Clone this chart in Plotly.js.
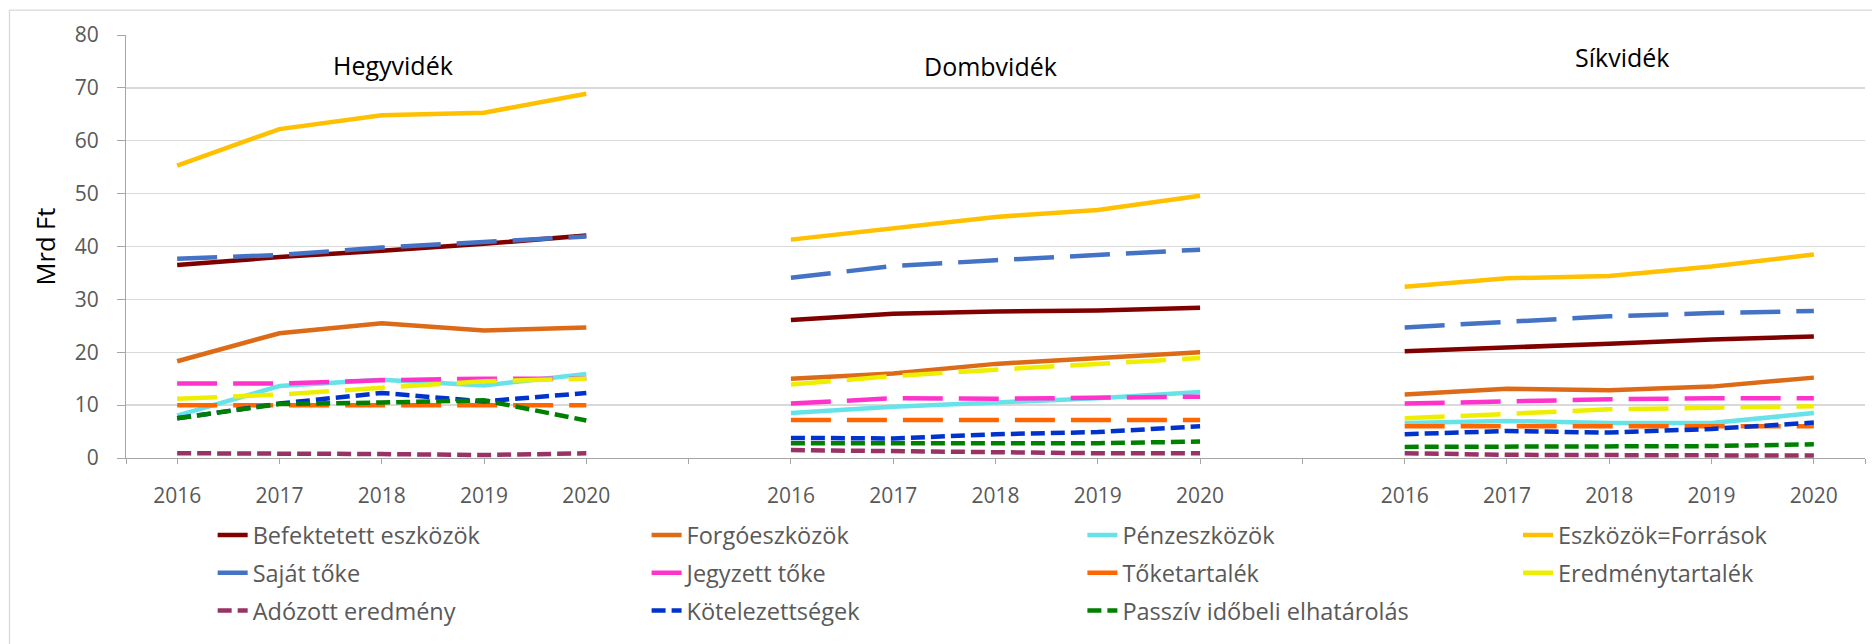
<!DOCTYPE html>
<html>
<head>
<meta charset="utf-8">
<script src="https://cdn.plot.ly/plotly-3.0.1.min.js"></script>
<style>
  html, body { margin: 0; padding: 0; background: #fff; }
  #chart { width: 1872px; height: 644px; }
</style>
</head>
<body>
<div id="chart"></div>
<script>
// ---- Data ----
const regions = ['Hegyvidék', 'Dombvidék', 'Síkvidék'];
const years = ['2016', '2017', '2018', '2019', '2020'];
const yAxisTitle = 'Mrd Ft';

// each array: Hegyvidék 2016-2020, Dombvidék 2016-2020, Síkvidék 2016-2020 (Mrd Ft)
const befektetettEszkozok = [36.5, 38.0, 39.2, 40.5, 42.1, 26.1, 27.3, 27.7, 27.9, 28.4, 20.2, 20.8, 21.6, 22.4, 23.0];
const forgoeszkozok       = [18.3, 23.6, 25.5, 24.1, 24.7, 15.0, 16.0, 17.8, 18.8, 20.0, 12.0, 13.1, 12.8, 13.5, 15.2];
const penzeszkozok        = [8.0, 13.6, 14.8, 13.7, 15.9, 8.5, 9.7, 10.5, 11.3, 12.5, 6.6, 7.0, 6.6, 6.6, 8.5];
const eszkozokForrasok    = [55.3, 62.2, 64.8, 65.3, 68.9, 41.3, 43.4, 45.6, 46.9, 49.6, 32.4, 34.0, 34.4, 36.2, 38.5];
const sajatToke           = [37.7, 38.4, 39.8, 40.9, 41.9, 34.1, 36.3, 37.4, 38.4, 39.4, 24.7, 25.8, 26.8, 27.4, 27.8];
const jegyzettToke        = [14.1, 14.1, 14.7, 15.0, 15.0, 10.3, 11.3, 11.2, 11.5, 11.6, 10.3, 10.8, 11.1, 11.3, 11.3];
const toketartalek        = [10.0, 10.0, 10.0, 10.0, 10.0, 7.2, 7.2, 7.2, 7.2, 7.2, 6.0, 6.0, 6.0, 6.0, 6.0];
const eredmenytartalek    = [11.2, 12.0, 13.3, 14.5, 15.0, 13.9, 15.5, 16.7, 17.9, 18.9, 7.5, 8.4, 9.2, 9.5, 9.8];
const adozottEredmeny     = [0.9, 0.9, 0.75, 0.55, 0.9, 1.5, 1.25, 1.1, 0.9, 0.9, 0.9, 0.6, 0.55, 0.45, 0.45];
const kotelezettsegek     = [7.5, 10.3, 12.3, 10.7, 12.3, 3.8, 3.7, 4.5, 4.9, 6.0, 4.5, 5.1, 4.8, 5.5, 6.7];
const passzivElhatarolas  = [7.5, 10.2, 10.5, 10.9, 7.1, 2.8, 2.8, 2.8, 2.8, 3.1, 2.1, 2.1, 2.1, 2.25, 2.6];

const yTickVals = [0, 10, 20, 30, 40, 50, 60, 70, 80];

// ---- Series definitions (name, values, style) ----
const LONG = '40px,16px';
const DOT = '14px,6px';
const series = [
  { name: 'Befektetett eszközök',        values: befektetettEszkozok, color: '#800000', dash: 'solid' },
  { name: 'Forgóeszközök',               values: forgoeszkozok,       color: '#DD6A17', dash: 'solid' },
  { name: 'Pénzeszközök',                values: penzeszkozok,        color: '#66E3E8', dash: 'solid' },
  { name: 'Eszközök=Források',           values: eszkozokForrasok,    color: '#FFC000', dash: 'solid' },
  { name: 'Saját tőke',                  values: sajatToke,           color: '#4472C4', dash: LONG },
  { name: 'Jegyzett tőke',               values: jegyzettToke,        color: '#FF33CC', dash: LONG },
  { name: 'Tőketartalék',                values: toketartalek,        color: '#FF6600', dash: LONG },
  { name: 'Eredménytartalék',            values: eredmenytartalek,    color: '#EEEE00', dash: LONG },
  { name: 'Adózott eredmény',            values: adozottEredmeny,     color: '#993366', dash: DOT },
  { name: 'Kötelezettségek',             values: kotelezettsegek,     color: '#0033CC', dash: DOT },
  { name: 'Passzív időbeli elhatárolás', values: passzivElhatarolas,  color: '#008000', dash: DOT }
];

// category slots: 5 years per region, one empty slot between regions
const slotsPerRegion = years.length + 1;
const nSlots = regions.length * slotsPerRegion - 1;
const tickVals = [-0.5];
const tickText = [''];
for (let s = 0; s < nSlots; s++) {
  const j = s % slotsPerRegion;
  tickVals.push(s);
  tickText.push(j < years.length ? years[j] : '');
}
tickVals.push(nSlots - 0.5);
tickText.push('');

function buildXY(values) {
  const x = [], y = [];
  for (let s = 0; s < nSlots; s++) {
    const r = Math.floor(s / slotsPerRegion), j = s % slotsPerRegion;
    x.push(s);
    y.push(j < years.length ? values[r * years.length + j] : null);
  }
  return { x, y };
}

const legendIds = ['legend', 'legend2', 'legend3', 'legend4'];
const traces = series.map((s, i) => {
  const xy = buildXY(s.values);
  return {
    type: 'scatter', mode: 'lines',
    x: xy.x, y: xy.y, name: s.name,
    connectgaps: false,
    line: { color: s.color, width: 4.5, dash: s.dash },
    legend: legendIds[i % 4],
    legendgroup: 'g' + i,
    hoverinfo: 'name+y'
  };
});

const FONT = '"Open Sans", "Noto Sans", sans-serif';
const legendBase = {
  orientation: 'v', xref: 'container', yref: 'container',
  xanchor: 'left', yanchor: 'top', y: 0.2030,
  bgcolor: 'rgba(0,0,0,0)', borderwidth: 0, tracegroupgap: 4.2,
  font: { family: FONT, size: 23.5, color: '#595959' }
};

const layout = {
  width: 1872, height: 644,
  paper_bgcolor: '#ffffff', plot_bgcolor: '#ffffff',
  margin: { l: 126, r: 7, t: 35, b: 186, autoexpand: false },
  font: { family: FONT, color: '#595959' },
  showlegend: true,
  legend:  Object.assign({}, legendBase, { x: 0.1136 }),
  legend2: Object.assign({}, legendBase, { x: 0.3454 }),
  legend3: Object.assign({}, legendBase, { x: 0.5782 }),
  legend4: Object.assign({}, legendBase, { x: 0.8109 }),
  xaxis: {
    type: 'linear', range: [-0.5, nSlots - 0.5],
    tickmode: 'array', tickvals: tickVals, ticktext: tickText,
    showgrid: false, zeroline: false,
    showline: true, linecolor: '#a6a6a6', linewidth: 1,
    ticks: 'outside', ticklen: 5, tickcolor: '#a6a6a6', tickwidth: 1,
    ticklabelstandoff: 14,
    tickfont: { family: FONT, size: 21, color: '#595959' },
    fixedrange: true
  },
  yaxis: {
    range: [0, 80], tickmode: 'array', tickvals: yTickVals,
    showgrid: true, gridcolor: '#d9d9d9', gridwidth: 1.3,
    zeroline: false,
    showline: true, linecolor: '#a6a6a6', linewidth: 1,
    ticks: 'outside', ticklen: 8, tickcolor: '#a6a6a6', tickwidth: 1,
    ticklabelstandoff: 14,
    tickfont: { family: FONT, size: 21, color: '#595959' },
    fixedrange: true
  },
  annotations: [
    { text: regions[0], x: 0.1533, y: 0.929 },
    { text: regions[1], x: 0.4972, y: 0.9274 },
    { text: regions[2], x: 0.8603, y: 0.9487 },
    { text: yAxisTitle, x: -0.0466, y: 0.5, textangle: -90, font: { family: FONT, size: 25.5, color: '#000000' } }
  ].map(a => Object.assign({
    xref: 'paper', yref: 'paper', xanchor: 'center', yanchor: 'middle',
    showarrow: false, font: { family: FONT, size: 25, color: '#000000' }
  }, a)),
  shapes: [{
    type: 'rect', xref: 'paper', yref: 'paper',
    x0: -0.067, x1: 1.01, y0: -0.5, y1: 1.059,
    line: { color: '#d9d9d9', width: 1.3 }, fillcolor: 'rgba(0,0,0,0)', layer: 'below'
  }]
};

Plotly.newPlot('chart', traces, layout, { displayModeBar: false, staticPlot: true });
</script>
</body>
</html>
